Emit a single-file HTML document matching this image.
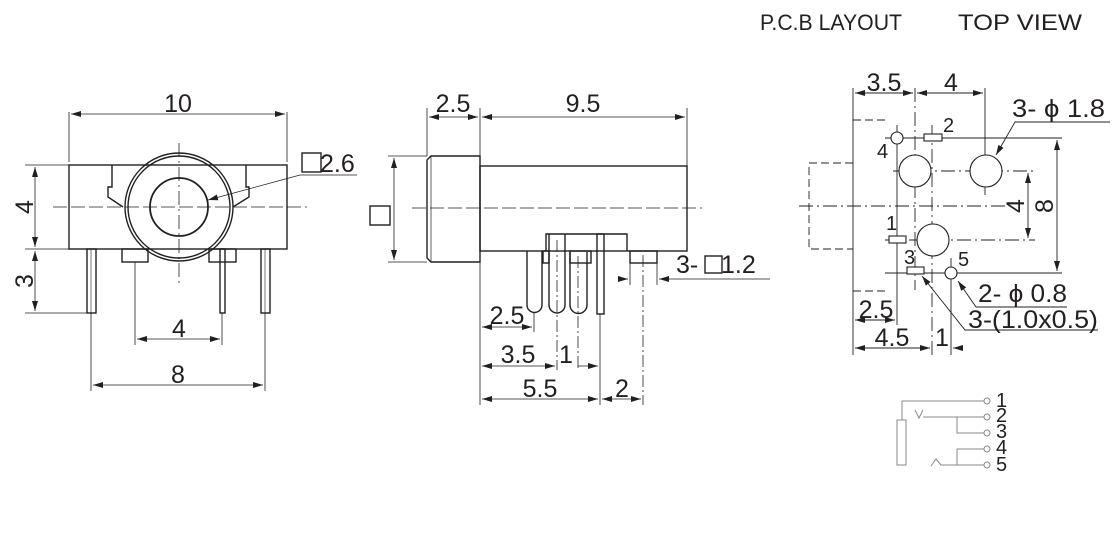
<!DOCTYPE html>
<html><head><meta charset="utf-8"><style>html,body{margin:0;padding:0;background:#fff}svg{display:block}text{font-family:"Liberation Sans",Arial,sans-serif;fill:#231f20}</style></head>
<body>
<svg width="1120" height="556" viewBox="0 0 1120 556" xmlns="http://www.w3.org/2000/svg">
<defs>
<marker id="a" viewBox="0 0 10 6" refX="10" refY="3" markerWidth="10" markerHeight="6" markerUnits="userSpaceOnUse" orient="auto-start-reverse"><path d="M0,0 L10,3 L0,6z" fill="#231f20"/></marker>
</defs>
<g stroke="#231f20" fill="none" stroke-width="1.4">
<rect x="69" y="165" width="218" height="84"/>
<circle cx="179" cy="207" r="54"/><circle cx="179" cy="207" r="51"/><circle cx="179" cy="207" r="29" stroke-width="1.8"/>
<polyline points="112,165 112,187 108,187 108,197 123,207"/>
<polyline points="246,165 246,187 249,187 249,197 233,207"/>
<rect x="87" y="249" width="9" height="64"/><line x1="91" y1="249" x2="91" y2="313" stroke-width="0.6"/>
<rect x="220" y="249" width="5" height="64"/>
<rect x="261" y="249" width="9" height="64"/><line x1="265" y1="249" x2="265" y2="313" stroke-width="0.6"/>
<rect x="122" y="249" width="26" height="13"/><rect x="209" y="249" width="27" height="13"/>
<rect x="302" y="153" width="19" height="19"/>
</g>
<g stroke="#231f20" fill="none" stroke-width="0.8">
<line x1="53" y1="207" x2="307" y2="207" stroke-dasharray="14,4"/>
<line x1="179" y1="143" x2="179" y2="287" stroke-dasharray="14,4,2,4"/>
<line x1="69" y1="112" x2="69" y2="162"/><line x1="287" y1="112" x2="287" y2="162"/>
<line x1="71" y1="114" x2="285" y2="114" marker-start="url(#a)" marker-end="url(#a)"/>
<line x1="25" y1="165" x2="69" y2="165"/><line x1="25" y1="249" x2="69" y2="249"/><line x1="25" y1="313" x2="87" y2="313"/>
<line x1="35" y1="167" x2="35" y2="247" marker-start="url(#a)" marker-end="url(#a)"/>
<line x1="35" y1="251" x2="35" y2="311" marker-start="url(#a)" marker-end="url(#a)"/>
<line x1="135" y1="262" x2="135" y2="345"/><line x1="222" y1="313" x2="222" y2="345"/>
<line x1="137" y1="339" x2="220" y2="339" marker-start="url(#a)" marker-end="url(#a)"/>
<line x1="91" y1="313" x2="91" y2="391"/><line x1="265" y1="313" x2="265" y2="391"/>
<line x1="93" y1="385" x2="263" y2="385" marker-start="url(#a)" marker-end="url(#a)"/>
<polyline points="357,175 300,175 208,200" marker-end="url(#a)"/>
</g>
<g font-size="25">
<text x="178" y="112" text-anchor="middle">10</text>
<text x="179" y="337" text-anchor="middle">4</text>
<text x="178" y="383" text-anchor="middle">8</text>
<text x="320" y="172">2.6</text>
<text transform="translate(33,207) rotate(-90)" text-anchor="middle">4</text>
<text transform="translate(33,281) rotate(-90)" text-anchor="middle">3</text>
</g>

<g stroke="#231f20" fill="none" stroke-width="1.4">
<polygon points="431,156 480,156 480,262 431,262 427,258 427,160"/>
<line x1="431" y1="156" x2="431" y2="262" stroke-width="0.7"/>
<rect x="480" y="166" width="207" height="85"/>
<rect x="370" y="206" width="20" height="19"/>
<polyline points="546,251 546,234 627,234 627,251"/>
<path d="M527,251 V305 a7.5,7.5 0 0 0 15,0 V251"/>
<path d="M549,234 V305 a8,8 0 0 0 16,0 V234"/>
<path d="M570,252 V305 a8.5,8.5 0 0 0 17,0 V252"/>
<rect x="597" y="234" width="7" height="80"/>
<rect x="570" y="251" width="21" height="12"/><rect x="630" y="251" width="27" height="12"/><rect x="543" y="251" width="6" height="12"/>
<rect x="705" y="256" width="17" height="17"/>
</g>
<g stroke="#231f20" fill="none" stroke-width="0.8">
<line x1="412" y1="208" x2="702" y2="208" stroke-dasharray="14,4"/>
<line x1="427" y1="108" x2="427" y2="156"/><line x1="480" y1="108" x2="480" y2="156"/><line x1="687" y1="108" x2="687" y2="166"/>
<line x1="429" y1="117" x2="478" y2="117" marker-start="url(#a)" marker-end="url(#a)"/>
<line x1="482" y1="117" x2="685" y2="117" marker-start="url(#a)" marker-end="url(#a)"/>
<line x1="388" y1="156" x2="427" y2="156"/><line x1="388" y1="262" x2="427" y2="262"/>
<line x1="394" y1="158" x2="394" y2="260" marker-start="url(#a)" marker-end="url(#a)"/>
<line x1="480" y1="262" x2="480" y2="405"/>
<line x1="534" y1="313" x2="534" y2="332"/><line x1="557" y1="240" x2="557" y2="370" stroke-dasharray="12,3,2,3"/><line x1="578" y1="256" x2="578" y2="370" stroke-dasharray="12,3,2,3"/>
<line x1="600" y1="314" x2="600" y2="405"/><line x1="643" y1="255" x2="643" y2="405" stroke-dasharray="12,3,2,3"/>
<line x1="630" y1="263" x2="630" y2="285"/><line x1="657" y1="263" x2="657" y2="285"/>
<line x1="482" y1="327" x2="532" y2="327" marker-start="url(#a)" marker-end="url(#a)"/>
<line x1="482" y1="366" x2="555" y2="366" marker-start="url(#a)" marker-end="url(#a)"/>
<line x1="578" y1="366" x2="598" y2="366" marker-end="url(#a)"/>
<line x1="482" y1="399" x2="598" y2="399" marker-start="url(#a)" marker-end="url(#a)"/>
<line x1="602" y1="399" x2="641" y2="399" marker-start="url(#a)" marker-end="url(#a)"/>
<line x1="618" y1="279" x2="628" y2="279" marker-end="url(#a)"/>
<line x1="770" y1="279" x2="659" y2="279" marker-end="url(#a)"/>
</g>
<g font-size="25">
<text x="453" y="112" text-anchor="middle">2.5</text>
<text x="583" y="112" text-anchor="middle">9.5</text>
<text x="507" y="324" text-anchor="middle">2.5</text>
<text x="518" y="363" text-anchor="middle">3.5</text>
<text x="566" y="363" text-anchor="middle">1</text>
<text x="540" y="397" text-anchor="middle">5.5</text>
<text x="622" y="397" text-anchor="middle">2</text>
<text x="676" y="273">3-</text><text x="721" y="273">1.2</text>
</g>

<text x="760" y="30" font-size="22" textLength="142" lengthAdjust="spacingAndGlyphs">P.C.B LAYOUT</text>
<text x="958" y="30" font-size="22" textLength="124" lengthAdjust="spacingAndGlyphs">TOP VIEW</text>
<g stroke="#231f20" fill="none" stroke-width="0.9">
<polyline points="885,120 853,120" stroke-dasharray="8,4"/>
<polyline points="885,291 853,291" stroke-dasharray="8,4"/>
<polyline points="853,163 809,163 809,249 853,249" stroke-dasharray="8,4"/>
<line x1="853" y1="88" x2="853" y2="355"/>
<line x1="799" y1="206" x2="1010" y2="206" stroke-dasharray="14,4,2,4"/>
<line x1="915" y1="88" x2="915" y2="290" stroke-dasharray="14,4,2,4"/>
<line x1="932" y1="125" x2="932" y2="355" stroke-dasharray="14,4,2,4"/>
<line x1="985" y1="88" x2="985" y2="195"/>
<line x1="897" y1="125" x2="897" y2="325"/>
<line x1="951" y1="258" x2="951" y2="355"/>
<line x1="885" y1="138" x2="1062" y2="138"/>
<line x1="893" y1="171" x2="1035" y2="171" stroke-dasharray="14,4,2,4"/>
<line x1="885" y1="240" x2="1035" y2="240" stroke-dasharray="14,4,2,4"/>
<line x1="885" y1="273" x2="1062" y2="273"/>
<line x1="855" y1="93" x2="913" y2="93" marker-start="url(#a)" marker-end="url(#a)"/>
<line x1="917" y1="93" x2="983" y2="93" marker-start="url(#a)" marker-end="url(#a)"/>
<line x1="1028" y1="173" x2="1028" y2="238" marker-start="url(#a)" marker-end="url(#a)"/>
<line x1="1057" y1="140" x2="1057" y2="271" marker-start="url(#a)" marker-end="url(#a)"/>
<line x1="855" y1="320" x2="895" y2="320" marker-start="url(#a)" marker-end="url(#a)"/>
<line x1="855" y1="348" x2="930" y2="348" marker-start="url(#a)" marker-end="url(#a)"/>
<line x1="962" y1="348" x2="953" y2="348" marker-end="url(#a)"/>
<polyline points="1110,122 1015,122 996,155" marker-end="url(#a)"/>
<polyline points="1067,307 976,307 958,281" marker-end="url(#a)"/>
<polyline points="1098,330 965,330 922,276" marker-end="url(#a)"/>
</g>
<g stroke="#231f20" fill="#fff" stroke-width="1.1">
<circle cx="897" cy="138" r="6"/><rect x="924" y="134" width="18" height="7"/>
<circle cx="915" cy="171" r="16"/><circle cx="986" cy="171" r="16"/><circle cx="933" cy="240" r="16"/>
<rect x="889" y="236" width="17" height="7"/><rect x="907" y="267" width="17" height="7"/>
<circle cx="951" cy="273" r="6"/>
</g>
<g font-size="25">
<text x="884" y="91" text-anchor="middle">3.5</text>
<text x="951" y="91" text-anchor="middle">4</text>
<text x="1012" y="117" textLength="93" lengthAdjust="spacingAndGlyphs">3- ϕ 1.8</text>
<text x="978" y="302" textLength="89" lengthAdjust="spacingAndGlyphs">2- ϕ 0.8</text>
<text x="968" y="328" textLength="130" lengthAdjust="spacingAndGlyphs">3-(1.0x0.5)</text>
<text x="876" y="318" text-anchor="middle">2.5</text>
<text x="892" y="346" text-anchor="middle">4.5</text>
<text x="942" y="346" text-anchor="middle">1</text>
<text transform="translate(1024,206) rotate(-90)" text-anchor="middle">4</text>
<text transform="translate(1053,206) rotate(-90)" text-anchor="middle">8</text>
</g>
<g font-size="20">
<text x="943" y="132">2</text><text x="877" y="158">4</text><text x="886" y="230">1</text><text x="904" y="264">3</text><text x="958" y="266">5</text>
</g>

<g stroke="#888" fill="none" stroke-width="1">
<polyline points="984,401 902,401 902,420"/>
<rect x="897" y="420" width="9" height="45"/>
<polyline points="915,410 919,418 923,410"/>
<polyline points="923,417 984,417"/>
<polyline points="957,417 957,433 984,433"/>
<polyline points="984,449 957,449 957,465"/>
<polyline points="931,466 936,459 941,465 984,465"/>
<circle cx="987" cy="401" r="3"/><circle cx="987" cy="417" r="3"/><circle cx="987" cy="433" r="3"/><circle cx="987" cy="449" r="3"/><circle cx="987" cy="465" r="3"/>
</g>
<g font-size="20">
<text x="996" y="407">1</text><text x="996" y="422">2</text><text x="996" y="438">3</text><text x="996" y="454">4</text><text x="996" y="471">5</text>
</g>
</svg>
</body></html>
